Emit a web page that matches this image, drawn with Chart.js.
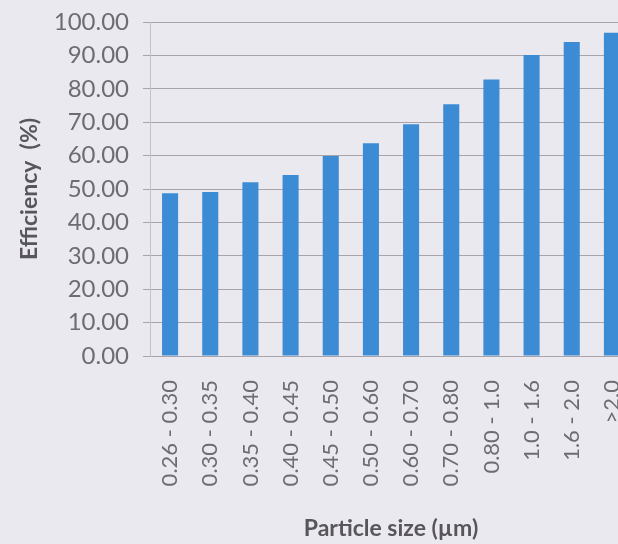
<!DOCTYPE html>
<html>
<head>
<meta charset="utf-8">
<script src="https://cdn.jsdelivr.net/npm/chart.js@4/dist/chart.umd.min.js"></script>
<style>
    html, body { margin: 0; padding: 0; overflow: hidden; background: #ebe9f0; }
    #chart { display: block; }
</style>
</head>
<body>
<canvas id="chart" width="632" height="544"></canvas>
<script>
// Particle size bins and collection efficiency
const sizeBins = ['0.26 - 0.30', '0.30 - 0.35', '0.35 - 0.40', '0.40 - 0.45', '0.45 - 0.50',
    '0.50 - 0.60', '0.60 - 0.70', '0.70 - 0.80', '0.80 - 1.0', '1.0 - 1.6', '1.6 - 2.0', '>2.0'];
const efficiency = [48.7, 49.1, 52.0, 54.2, 59.9, 63.7, 69.4, 75.4, 82.8, 90.1, 94.0, 96.8];

const yMin = 0;
const yMax = 100;
const yStep = 10;

const textGray = '#6e6c70';
const titleGray = '#58565a';

const ctx = document.getElementById('chart').getContext('2d');
new Chart(ctx, {
    type: 'bar',
    data: {
        labels: sizeBins,
        datasets: [{
            label: 'Efficiency (%)',
            data: efficiency,
            backgroundColor: '#3c8bd5',
            borderWidth: 0,
            barPercentage: 0.4,
            categoryPercentage: 1.0
        }]
    },
    options: {
        responsive: false,
        animation: false,
        layout: { padding: { top: 22, left: 16, right: 0, bottom: 0 } },
        plugins: {
            legend: { display: false },
            tooltip: { enabled: false }
        },
        scales: {
            x: {
                grid: { display: false },
                border: { display: true, color: '#a8a4aa', width: 1 },
                ticks: {
                    color: textGray,
                    font: { family: 'Lato', size: 22 },
                    minRotation: 90,
                    maxRotation: 90,
                    autoSkip: false,
                    padding: 16
                },
                title: {
                    display: true,
                    text: 'Particle size (µm)',
                    color: titleGray,
                    font: { family: 'Lato', size: 23, weight: 'bold' },
                    padding: { top: 0, bottom: 2 }
                },
                afterFit: function(scale) {
                    scale.height = 188;
                    // plot runs off the right edge like the cropped original
                    scale.paddingRight = 0;
                    scale.paddingLeft = 0;
                }
            },
            y: {
                min: yMin,
                max: yMax,
                grid: {
                    color: '#a8a4aa',
                    lineWidth: 1,
                    tickLength: 7,
                    drawTicks: true
                },
                border: { display: true, color: '#c4c0c6', width: 1 },
                ticks: {
                    stepSize: yStep,
                    color: textGray,
                    font: { family: 'Lato', size: 24 },
                    padding: 14,
                    callback: function(v) { return v.toFixed(2); }
                },
                title: {
                    display: true,
                    text: 'Efficiency  (%)',
                    color: titleGray,
                    font: { family: 'Lato', size: 23, weight: 'bold' },
                    padding: { top: 0, bottom: 4 }
                },
                afterFit: function(scale) {
                    scale.width = 134;
                    scale.paddingTop = 0;
                    scale.paddingBottom = 0;
                }
            }
        }
    }
});
</script>
</body>
</html>
